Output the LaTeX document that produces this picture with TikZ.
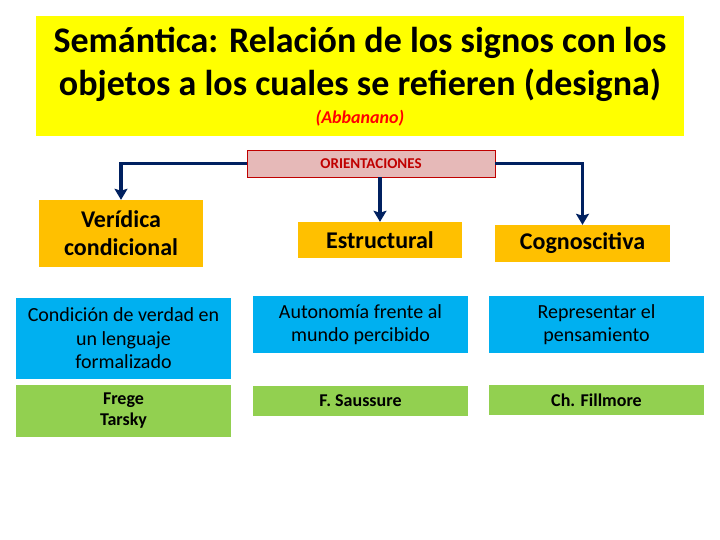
\documentclass[tikz,border=0pt]{standalone}
\usepackage{fontspec}
\setmainfont{Carlito}
\usepackage{xcolor}
\usetikzlibrary{positioning,arrows.meta}

\definecolor{amarillo}{HTML}{FFFF00}
\definecolor{naranja}{HTML}{FFC000}
\definecolor{celeste}{HTML}{00B0F0}
\definecolor{verde}{HTML}{92D050}
\definecolor{rosa}{HTML}{E6B9B8}
\definecolor{rojo}{HTML}{C00000}
\definecolor{marino}{HTML}{002060}

\begin{document}
\begin{tikzpicture}[
  x=1pt, y=-1pt,
  >={Stealth[length=11pt,width=13pt,inset=2pt]},
  every node/.style={inner sep=0pt, align=center, text=black},
  titlebox/.style={fill=amarillo, minimum width=648pt, minimum height=120pt},
  orient/.style={draw=rojo, fill=rosa, line width=0.8pt, minimum width=248pt,
                 minimum height=27pt, text=rojo, font=\fontsize{15}{17}\selectfont\bfseries},
  tipo/.style={fill=naranja, minimum width=164pt,
               font=\fontsize{24}{28}\selectfont\bfseries},
  idea/.style={fill=celeste, minimum width=215pt,
               font=\fontsize{20}{23.5}\selectfont},
  autor/.style={fill=verde, minimum width=215pt,
                font=\fontsize{18}{21}\selectfont\bfseries},
  flecha/.style={->, line width=3.5pt, draw=marino}
]
\useasboundingbox (0,0) rectangle (720,540);

% ---- Column positions ----
\def\xA{123.5}   % left col
\def\xB{360.5}   % middle col
\def\xC{596.5}   % right col

% ---- Title ----
\node[titlebox] (tit) at (360,76) {};
\node[font=\fontsize{36}{43}\selectfont\bfseries] (tittxt) at (360,64.5)
    {Semántica: Relación de los signos con los\\objetos a los cuales se refieren (designa)};
\node[text=red, font=\fontsize{18}{20}\selectfont\bfseries\itshape] (abb) at (360,118) {(Abbanano)};

% ---- Orientaciones ----
\node[orient] (ori) at (371,163.5) {ORIENTACIONES};

% ---- Orientation types ----
\node[tipo, minimum height=67pt] (ver) at (121,233.5) {Verídica\\condicional};
\node[tipo, minimum height=36pt] (est) at (380,240) {Estructural};
\node[tipo, minimum height=37pt, minimum width=175pt] (cog) at (582.5,243.5) {Cognoscitiva};

% ---- Descriptions ----
\node[idea, minimum height=81pt] (cond) at (\xA,338.5)
    {Condición de verdad en\\un lenguaje\\formalizado};
\node[idea, minimum height=57pt] (auto) at (\xB,324.5)
    {Autonomía frente al\\mundo percibido};
\node[idea, minimum height=57pt] (repr) at (\xC,324.5)
    {Representar el\\pensamiento};

% ---- Authors ----
\node[autor, minimum height=52pt] (frege) at (\xA,411) {Frege\\Tarsky};
\node[autor, minimum height=30pt] (sau) at (\xB,401) {F. Saussure};
\node[autor, minimum height=30pt] (fill) at (\xC,400) {Ch. Fillmore};

% ---- Arrows ----
\draw[flecha] (ori.west) -| (ver.north);
\draw[flecha] (ori.east) -| (cog.north);
\draw[flecha] (est.north |- ori.south) -- (est.north);

\end{tikzpicture}
\end{document}
